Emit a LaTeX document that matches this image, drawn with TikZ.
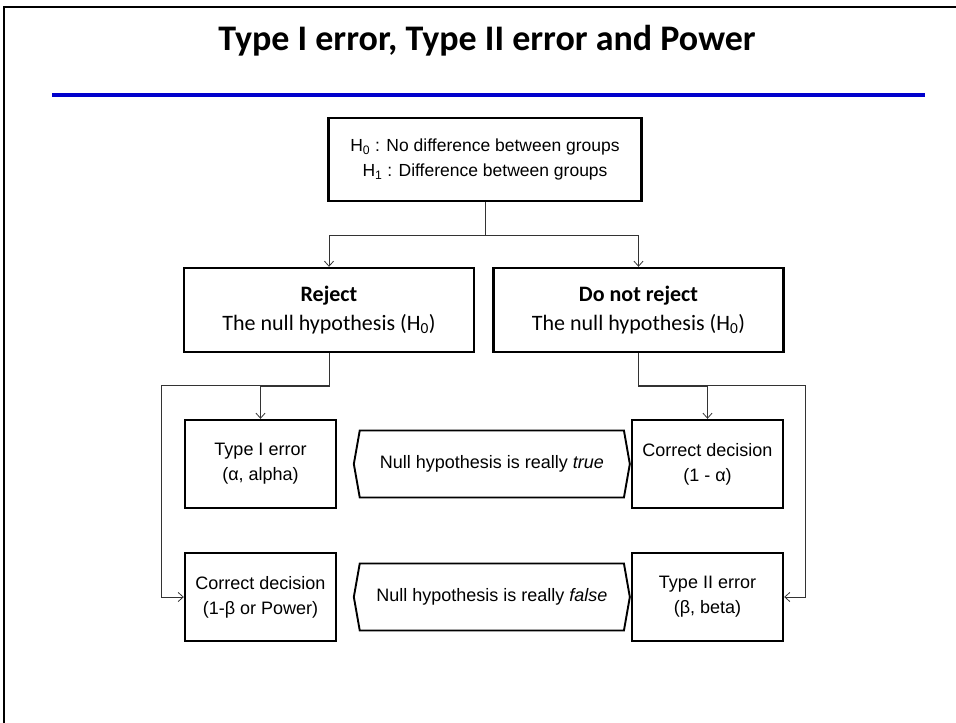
\documentclass[tikz,border=0pt]{standalone}
\usepackage{fontspec}
\setmainfont{Liberation Sans}
\newfontfamily\calfont{Carlito}
\usetikzlibrary{arrows.meta,positioning,calc,shapes.symbols}
\definecolor{titleblue}{RGB}{0,0,204}

\tikzset{
  box/.style={draw, line width=2.4pt, align=center, inner sep=2pt,
    font=\fontsize{17.5}{25}\selectfont},
  decbox/.style={box, minimum width=290pt, minimum height=84pt,
    font=\calfont\fontsize{22}{29}\selectfont},
  resbox/.style={box, minimum width=151pt, minimum height=88pt,
    font=\fontsize{18}{25}\selectfont},
  truth/.style={draw, line width=1.9pt, shape=signal, signal to=west and east,
    signal pointer angle=160, minimum width=276pt, minimum height=67pt,
    inner sep=2pt, font=\fontsize{18}{20}\selectfont},
  conn/.style={line width=0.8pt, draw=black!80},
  arr/.style={conn, -{Straight Barb[length=5pt,width=9pt]}}
}

\begin{document}
\begin{tikzpicture}[x=1pt, y=-1pt]
\useasboundingbox (0,0) rectangle (956,723);
% frame and title
\draw[line width=2pt] (956,7) -- (4,7) -- (4,723);
\node[font=\calfont\bfseries\fontsize{36}{40}\selectfont] (title) at (487,41) {Type I error, Type II error and Power};
\draw[line width=4.5pt, titleblue] (52,95) -- (925,95);

% hypotheses
\node[box, minimum width=313pt, minimum height=83pt] (hyp) at (485,159.5)
  {H\textsubscript{0} : No difference between groups\\H\textsubscript{1} : Difference between groups};

% decisions
\node[decbox] (rej) at (329,310) {\textbf{Reject}\\The null hypothesis (H\textsubscript{0})};
\node[decbox] (keep) at (638.5,310) {\textbf{Do not reject}\\The null hypothesis (H\textsubscript{0})};

% outcomes
\node[resbox] (err1) at (260.5,464) {Type I error\\(α, alpha)};
\node[resbox] (ok1) at (707.5,464) {Correct decision\\(1 - α)};
\node[resbox] (ok2) at (260.5,597) {Correct decision\\(1-β or Power)};
\node[resbox] (err2) at (707.5,597) {Type II error\\(β, beta)};

% truth of the null
\node[truth, anchor=east] (htrue) at (ok1.west) {Null hypothesis is really \textit{true}};
\node[truth, anchor=east] (hfalse) at (err2.west) {Null hypothesis is really \textit{false}};

% connectors
\coordinate (lout) at (161,385);
\coordinate (rout) at (805,385);
\draw[arr] (hyp.south) -- ++(0,33) -| (rej.north);
\draw[arr] (hyp.south) -- ++(0,33) -| (keep.north);
\draw[arr] (rej.south) -- ++(0,33) -| (err1.north);
\draw[arr] (rej.south) |- (lout) |- (ok2.west);
\draw[arr] (keep.south) -- ++(0,33) -| (ok1.north);
\draw[arr] (keep.south) |- (rout) |- (err2.east);
\end{tikzpicture}
\end{document}
